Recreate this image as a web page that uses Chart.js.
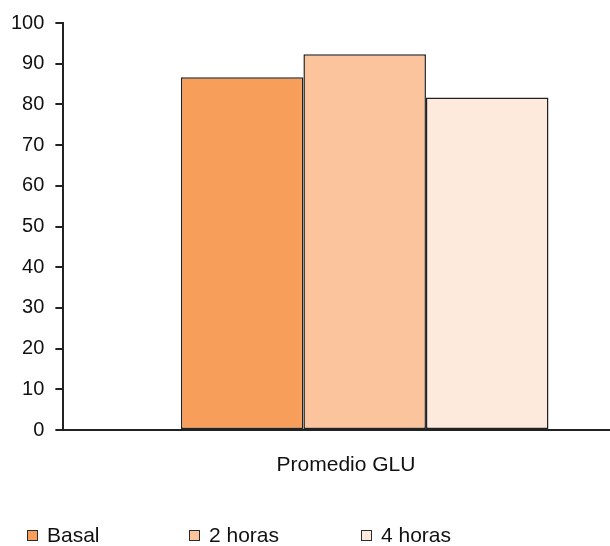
<!DOCTYPE html>
<html>
<head>
<meta charset="utf-8">
<script src="https://cdn.jsdelivr.net/npm/chart.js@4/dist/chart.umd.min.js"></script>
<style>
  html, body { margin: 0; padding: 0; background: #fff; }
  #wrap { position: relative; width: 610px; height: 546px; overflow: hidden; font-family: "Liberation Sans", Arial, sans-serif; color: #111; }
  #c { position: absolute; left: 0; top: 0; }
  #xlabel { position: absolute; left: 246px; width: 200px; top: 451px; text-align: center; font-size: 21px; line-height: 26px; }
  #legend { position: absolute; left: 27px; top: 522px; display: flex; font-size: 21px; line-height: 26px; }
  .item { display: flex; align-items: center; }
  .sw { width: 9px; height: 9px; border: 1px solid #2b2b2b; margin-right: 9px; }
</style>
</head>
<body>
<div id="wrap">
  <canvas id="c" width="666" height="546"></canvas>
  <div id="xlabel"></div>
  <div id="legend"></div>
</div>
<script>
// Category and series
const categories = ['Promedio GLU'];
const seriesNames = ['Basal', '2 horas', '4 horas'];
const basal = [86.7];
const dosHoras = [92.3];
const cuatroHoras = [81.7];
const yTicks = [0, 10, 20, 30, 40, 50, 60, 70, 80, 90, 100];

const colors = ['#F79E5A', '#FCC49C', '#FEEADC'];
const edge = '#222222';
const seriesValues = [basal, dosHoras, cuatroHoras];

const datasets = seriesNames.map((name, i) => ({
  label: name,
  data: seriesValues[i],
  backgroundColor: colors[i],
  borderColor: edge,
  borderWidth: 1.5,
  borderSkipped: false,
  barPercentage: 1.0,
  categoryPercentage: 0.61
}));

new Chart(document.getElementById('c'), {
  type: 'bar',
  data: { labels: categories, datasets },
  options: {
    responsive: false,
    animation: false,
    layout: { padding: { left: 0, top: 21, right: 0, bottom: 108 } },
    plugins: { legend: { display: false }, tooltip: { enabled: false } },
    scales: {
      x: {
        ticks: { display: false },
        grid: { display: false },
        border: { display: true, color: edge, width: 2 }
      },
      y: {
        min: yTicks[0],
        max: yTicks[yTicks.length - 1],
        afterBuildTicks: (s) => { s.ticks = yTicks.map(v => ({ value: v })); },
        ticks: {
          color: '#111',
          padding: 11,
          font: { family: '"Liberation Sans", Arial, sans-serif', size: 20 }
        },
        grid: { drawOnChartArea: false, drawTicks: true, tickLength: 8, color: edge, lineWidth: 2 },
        border: { display: true, color: edge, width: 2 }
      }
    }
  }
});

document.getElementById('xlabel').textContent = categories[0];

// Legend entries, spaced like the original layout
const legend = document.getElementById('legend');
const itemWidths = [162, 172, 120];
seriesNames.forEach((name, i) => {
  const it = document.createElement('div');
  it.className = 'item';
  it.style.width = itemWidths[i] + 'px';
  const sw = document.createElement('span');
  sw.className = 'sw';
  sw.style.background = colors[i];
  const tx = document.createElement('span');
  tx.textContent = name;
  it.appendChild(sw);
  it.appendChild(tx);
  legend.appendChild(it);
});
</script>
</body>
</html>
